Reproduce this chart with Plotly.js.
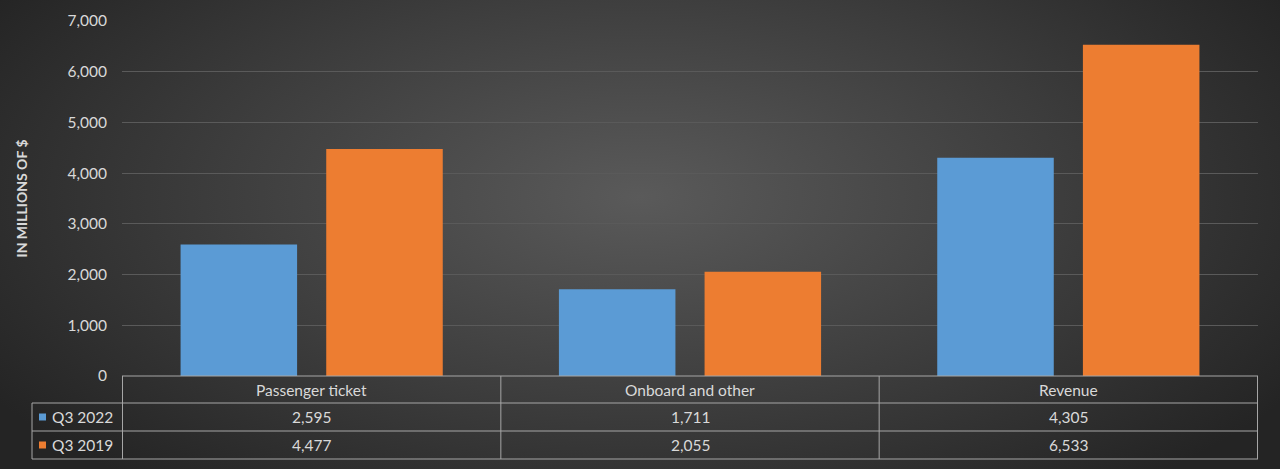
<!DOCTYPE html>
<html>
<head>
<meta charset="utf-8">
<script src="https://cdn.plot.ly/plotly-3.0.1.min.js"></script>
<style>
  html, body { margin: 0; padding: 0; }
  #RevenueChart {
    width: 1280px;
    height: 469px;
    background: radial-gradient(ellipse 60% 80% at 50% 42%, #5a5a5a 0%, #3d3d3d 55%, #242424 100%);
  }
</style>
</head>
<body>
<div id="RevenueChart"></div>
<script>
let categories = ['Passenger ticket', 'Onboard and other', 'Revenue'];
let seriesNames = ['Q3 2022', 'Q3 2019'];
let q3_2022 = [2595, 1711, 4305];
let q3_2019 = [4477, 2055, 6533];
let seriesColors = ['#5b9bd5', '#ed7d31'];
let yTicks = [0, 1000, 2000, 3000, 4000, 5000, 6000, 7000];

const textColor = '#d9d9d9';
const lineColor = '#a6a6a6';
const fontFamily = 'Lato, "Open Sans", sans-serif';
const fontSize = 15.5;

// table geometry (paper units, below the x axis)
const legendLeft = -90 / 1136;
const rowLines = [0, -27 / 355, -55 / 355, -83 / 355];

let traces = [q3_2022, q3_2019].map((vals, i) => ({
    x: categories,
    y: vals,
    name: seriesNames[i],
    type: 'bar',
    marker: { color: seriesColors[i] },
    hoverinfo: 'x+y+name'
}));

let shapes = [];
let annotations = [];

// horizontal table lines
rowLines.forEach((y, i) => {
    shapes.push({
        type: 'line', xref: 'paper', yref: 'paper',
        x0: i === 0 ? 0 : legendLeft, x1: 1, y0: y, y1: y,
        line: { color: lineColor, width: 1 }
    });
});

// vertical table lines
shapes.push({
    type: 'line', xref: 'paper', yref: 'paper',
    x0: legendLeft, x1: legendLeft, y0: rowLines[1], y1: rowLines[3],
    line: { color: lineColor, width: 1 }
});
for (let k = 0; k <= categories.length; k++) {
    shapes.push({
        type: 'line', xref: 'x', yref: 'paper',
        x0: k - 0.5, x1: k - 0.5, y0: rowLines[0], y1: rowLines[3],
        line: { color: lineColor, width: 1 }
    });
}

// header labels
categories.forEach((cat) => {
    annotations.push({
        x: cat, xref: 'x', y: (rowLines[0] + rowLines[1]) / 2, yref: 'paper',
        text: cat, showarrow: false, xanchor: 'center', yanchor: 'middle',
        font: { color: textColor, size: fontSize, family: fontFamily }
    });
});

// value rows + legend keys
[q3_2022, q3_2019].forEach((vals, i) => {
    let yMid = (rowLines[i + 1] + rowLines[i + 2]) / 2;
    vals.forEach((v, j) => {
        annotations.push({
            x: categories[j], xref: 'x', y: yMid, yref: 'paper',
            text: v.toLocaleString('en-US'), showarrow: false,
            xanchor: 'center', yanchor: 'middle',
            font: { color: textColor, size: fontSize, family: fontFamily }
        });
    });
    annotations.push({
        x: legendLeft + 18 / 1136, xref: 'paper', y: yMid, yref: 'paper',
        text: seriesNames[i], showarrow: false,
        xanchor: 'left', yanchor: 'middle',
        font: { color: textColor, size: fontSize, family: fontFamily }
    });
    shapes.push({
        type: 'rect', xref: 'paper', yref: 'paper',
        x0: legendLeft + 7 / 1136, x1: legendLeft + 14 / 1136,
        y0: yMid - 3.5 / 355, y1: yMid + 3.5 / 355,
        fillcolor: seriesColors[i], line: { width: 0 }
    });
});

let layout = {
    width: 1280,
    height: 469,
    margin: { l: 122, r: 22, t: 21, b: 93 },
    paper_bgcolor: 'rgba(0,0,0,0)',
    plot_bgcolor: 'rgba(0,0,0,0)',
    font: { family: fontFamily, color: textColor, size: fontSize },
    showlegend: false,
    barmode: 'group',
    bargap: 0.23,
    bargroupgap: 0.2,
    xaxis: {
        showticklabels: false,
        showgrid: false,
        zeroline: false,
        showline: false,
        fixedrange: true
    },
    yaxis: {
        range: [0, 7000],
        tickvals: yTicks,
        ticktext: yTicks.map((t) => t.toLocaleString('en-US')),
        showgrid: true,
        gridcolor: '#5a5a5a',
        gridwidth: 1,
        zeroline: false,
        ticks: '',
        ticklabelstandoff: 14,
        tickfont: { color: textColor, size: fontSize, family: fontFamily },
        title: {
            text: '<b>IN MILLIONS OF $</b>',
            font: { color: textColor, size: 14, family: fontFamily },
            standoff: 36
        },
        fixedrange: true
    },
    shapes: shapes,
    annotations: annotations
};

Plotly.newPlot('RevenueChart', traces, layout, { displayModeBar: false, staticPlot: true });
</script>
</body>
</html>
